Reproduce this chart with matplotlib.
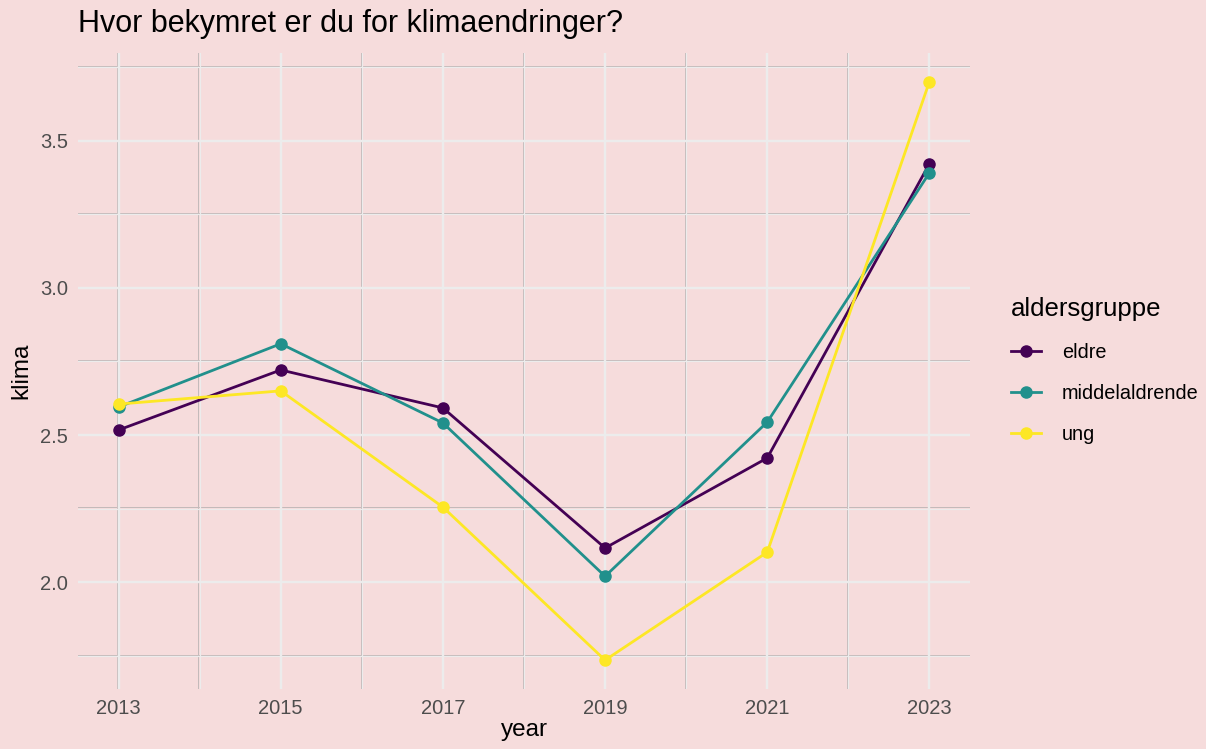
import matplotlib
matplotlib.use("Agg")
import matplotlib.pyplot as plt
import matplotlib.transforms as mtrans

plt.rcParams['font.family'] = ['Liberation Sans', 'DejaVu Sans']

# data
years = [2013, 2015, 2017, 2019, 2021, 2023]
eldre = [2.517, 2.721, 2.592, 2.116, 2.422, 3.422]
middelaldrende = [2.595, 2.810, 2.541, 2.020, 2.544, 3.391]
ung = [2.605, 2.650, 2.255, 1.735, 2.102, 3.701]
groups = ["eldre", "middelaldrende", "ung"]
colors = ["#440154", "#21908C", "#FDE725"]

x_major = [2013, 2015, 2017, 2019, 2021, 2023]
x_minor = [2014, 2016, 2018, 2020, 2022]
y_major = [2.0, 2.5, 3.0, 3.5]
y_minor = [1.75, 2.25, 2.75, 3.25, 3.75]

bg = "#f6dcdc"
W, H = 1206, 749
fig = plt.figure(figsize=(W / 100, H / 100), dpi=100, facecolor=bg)
ax = fig.add_axes([78 / W, (H - 689) / H, 892 / W, 636 / H])
ax.set_facecolor(bg)
for s in ax.spines.values():
    s.set_visible(False)

# ggplot-ish gridlines: white line with a thin grey edge
px = 0.72
off_v = mtrans.ScaledTranslation(-1.2 / 100, 0, fig.dpi_scale_trans)
off_h = mtrans.ScaledTranslation(0, 1.2 / 100, fig.dpi_scale_trans)
xt = ax.get_xaxis_transform()
yt = ax.get_yaxis_transform()
for xs, lw in [(x_major, 2.4), (x_minor, 1.2)]:
    for x in xs:
        ax.plot([x, x], [0, 1], color="#c4baba", lw=1 * px, zorder=0.5, transform=xt + off_v)
        ax.plot([x, x], [0, 1], color="#ececec", lw=lw * px, zorder=0.6, transform=xt)
for ys, lw in [(y_major, 2.4), (y_minor, 1.2)]:
    for y in ys:
        ax.plot([0, 1], [y, y], color="#c4baba", lw=1 * px, zorder=0.5, transform=yt + off_h)
        ax.plot([0, 1], [y, y], color="#ececec", lw=lw * px, zorder=0.6, transform=yt)

series = [eldre, middelaldrende, ung]
for name, vals, c in zip(groups, series, colors):
    ax.plot(years, vals, color=c, lw=2.0, marker="o", ms=8, label=name, zorder=3)

ax.set_xlim(2012.5, 2023.5)
ax.set_ylim(1.637, 3.798)
ax.set_xticks(x_major)
ax.set_yticks(y_major)
ax.set_yticklabels(["2.0", "2.5", "3.0", "3.5"])
ax.tick_params(length=0, labelsize=14.5, labelcolor="#4d4d4d", pad=7)
ax.set_xlabel("year", fontsize=17.5, labelpad=1)
ax.set_ylabel("klima", fontsize=17.5, labelpad=6)

fig.text(78 / W, 1 - 24 / H, "Hvor bekymret er du for klimaendringer?", fontsize=22,
         va="center", ha="left")

handles = ax.get_lines()[-3:]
leg = ax.legend(handles, groups, title="aldersgruppe", loc="upper left",
                bbox_to_anchor=(1.026, 0.645), frameon=False, fontsize=14.3,
                title_fontsize=18.5, handlelength=1.5, labelspacing=1.12,
                handletextpad=1.05, alignment="left")

fig.savefig("out.png", dpi=100, facecolor=bg)
